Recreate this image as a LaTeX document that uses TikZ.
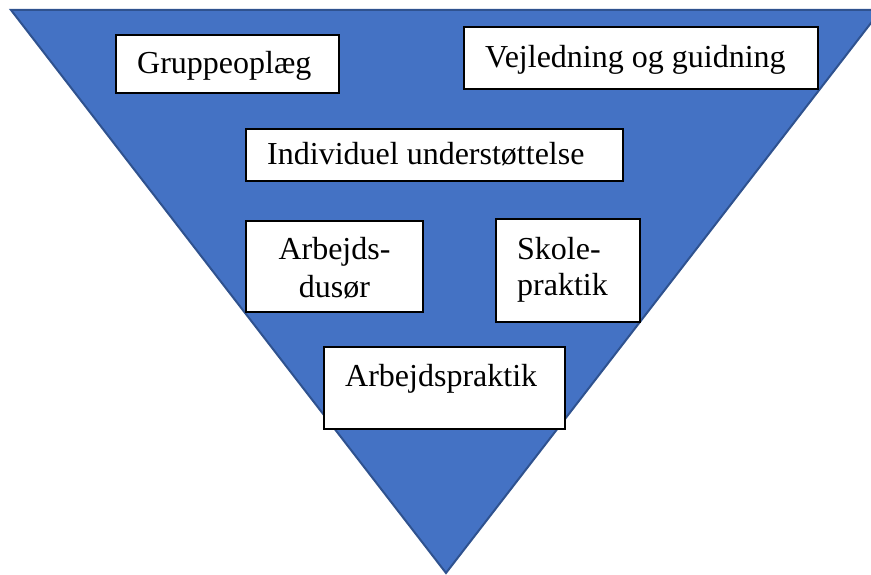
\documentclass[tikz,border=0pt]{standalone}
\usepackage{fontspec}
\setmainfont{Liberation Serif}
\definecolor{triblue}{HTML}{4472C4}
\definecolor{triedge}{HTML}{2F528F}
\begin{document}
\begin{tikzpicture}[x=1pt,y=-1pt,
  box/.style={draw=black,line width=1.3pt,fill=white,inner sep=0pt,outer sep=0pt},
  lbl/.style={anchor=base west,inner sep=0pt,font=\fontsize{32}{36}\selectfont},
  clbl/.style={anchor=base,inner sep=0pt,font=\fontsize{32}{36}\selectfont}]
\useasboundingbox (0,0) rectangle (871,575);
\begin{scope}
\clip (0,0) rectangle (871,575);
\draw[fill=triblue,draw=triedge,line width=2pt,line join=miter] (11,10) -- (881,10) -- (446,573) -- cycle;
\end{scope}
% boxes
\node[box,minimum width=223pt,minimum height=58pt] (b1) at (227.5,64) {};
\node[box,minimum width=354pt,minimum height=62pt] (b2) at (641,58) {};
\node[box,minimum width=377pt,minimum height=52pt] (b3) at (434.5,155) {};
\node[box,minimum width=177pt,minimum height=91pt] (b4) at (334.5,266.5) {};
\node[box,minimum width=144pt,minimum height=103pt] (b5) at (568,270.5) {};
\node[box,minimum width=241pt,minimum height=82pt] (b6) at (444.5,388) {};
% labels
\node[lbl] (t1) at (137,74) {Gruppeoplæg};
\node[lbl] (t2) at (485,68) {Vejledning og guidning};
\node[lbl] (t3) at (267,165) {Individuel understøttelse};
\node[clbl] (t4a) at (334.5,259) {Arbejds-};
\node[clbl] (t4b) at (334.5,297) {dusør};
\node[lbl] (t5a) at (517,259) {Skole-};
\node[lbl] (t5b) at (517,295) {praktik};
\node[lbl] (t6) at (345,386) {Arbejdspraktik};
\end{tikzpicture}
\end{document}
